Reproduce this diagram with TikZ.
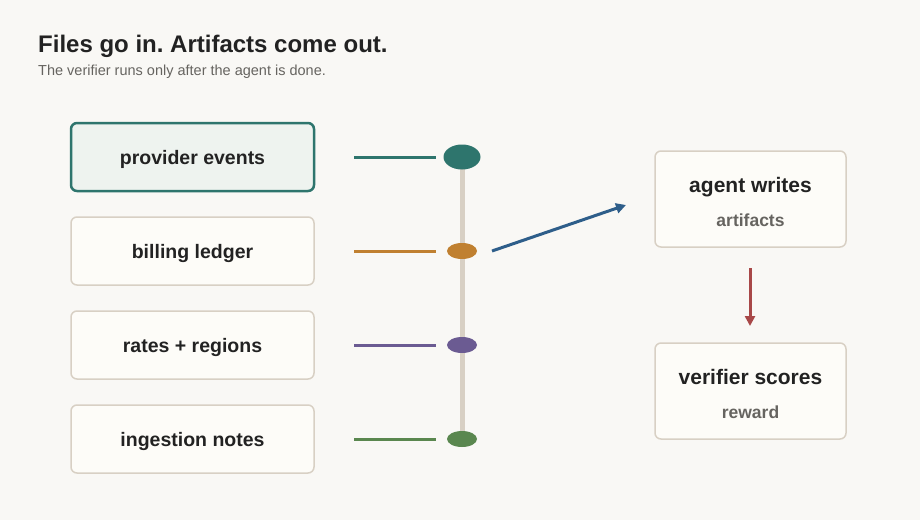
\documentclass[tikz,border=0pt]{standalone}
\usepackage{fontspec}
\setmainfont{Liberation Sans}
\usepackage{xcolor}
\usepackage{tikz}
\usetikzlibrary{arrows.meta, positioning, calc, shapes.geometric}
\frenchspacing
\definecolor{pagebg}{HTML}{F9F8F5}
\definecolor{inkdark}{HTML}{222222}
\definecolor{inkgray}{HTML}{666460}
\definecolor{edgesoft}{HTML}{D8D0C4}
\definecolor{cardfill}{HTML}{FDFCF8}
\definecolor{tealdark}{HTML}{2E756D}
\definecolor{tealsoft}{HTML}{EEF3EF}
\definecolor{ochre}{HTML}{C08030}
\definecolor{plum}{HTML}{6B5B92}
\definecolor{moss}{HTML}{5A874F}
\definecolor{flowblue}{HTML}{2E5E8A}
\definecolor{flowred}{HTML}{A84848}
\tikzset{
  card/.style={draw=edgesoft, rounded corners=6pt, line width=1.5pt, fill=cardfill,
               minimum width=243pt, minimum height=68pt, text=inkdark, text depth=0pt,
               font=\fontsize{19.5}{23}\selectfont\bfseries},
  activecard/.style={card, draw=tealdark, fill=tealsoft, line width=2.5pt},
  outcard/.style={card, minimum width=191pt, minimum height=96pt,
                  font=\fontsize{21}{25}\selectfont\bfseries},
  tick/.style={line width=3pt},
  dot/.style={ellipse, minimum width=30pt, minimum height=16pt, inner sep=0pt},
  flow/.style={-{Triangle[length=10pt, width=10pt]}, line width=3pt},
}

\begin{document}
\begin{tikzpicture}[x=1pt, y=-1pt]
  \useasboundingbox (0,0) rectangle (920,520);
  \fill[pagebg] (0,0) rectangle (920,520);

  % heading
  \node[anchor=base west, inner sep=0pt, text=inkdark,
        font=\fontsize{24}{28}\selectfont\bfseries] (title) at (38,52.5)
        {Files go in. Artifacts come out.};
  \node[anchor=base west, inner sep=0pt, text=inkgray,
        font=\fontsize{14.5}{17}\selectfont] (sub) at (38,75.5)
        {The verifier runs only after the agent is done.};

  % input files
  \node[activecard] (events) at (192.5,157) {provider events};
  \node[card] (ledger) at (192.5,251) {billing ledger};
  \node[card] (rates) at (192.5,345) {rates + regions};
  \node[card] (notes) at (192.5,439) {ingestion notes};

  % rail
  \draw[edgesoft, line width=5pt] (462,157) -- (462,439);
  \node[dot, fill=tealdark, minimum width=37pt, minimum height=25pt] (dotA) at (462,157) {};
  \node[dot, fill=ochre] (dotB) at (462,251) {};
  \node[dot, fill=plum] (dotC) at (462,345) {};
  \node[dot, fill=moss] (dotD) at (462,439) {};

  \coordinate (tA) at (354,157);
  \coordinate (tB) at (354,251);
  \coordinate (tC) at (354,345);
  \coordinate (tD) at (354,439);
  \draw[tick, tealdark] (tA) -- ($(dotA.west)+(-7.5,0)$);
  \draw[tick, ochre] (tB) -- ($(dotB.west)+(-11,0)$);
  \draw[tick, plum] (tC) -- ($(dotC.west)+(-11,0)$);
  \draw[tick, moss] (tD) -- ($(dotD.west)+(-11,0)$);

  % outputs
  \node[outcard, align=center] (agent) at (750.5,199)
    {\rule{0pt}{21pt}agent writes\\[9pt]{\fontsize{17.5}{20}\selectfont\color{inkgray}artifacts}};
  \node[outcard, align=center] (score) at (750.5,391)
    {\rule{0pt}{21pt}verifier scores\\[9pt]{\fontsize{17.5}{20}\selectfont\color{inkgray}reward}};

  \coordinate (go) at (492,251);
  \coordinate (land) at (626,205);
  \draw[flow, flowblue] (go) -- (land);
  \coordinate (drop) at (750,268);
  \coordinate (stop) at (750,326);
  \draw[flow, flowred] (drop) -- (stop);
\end{tikzpicture}
\end{document}
